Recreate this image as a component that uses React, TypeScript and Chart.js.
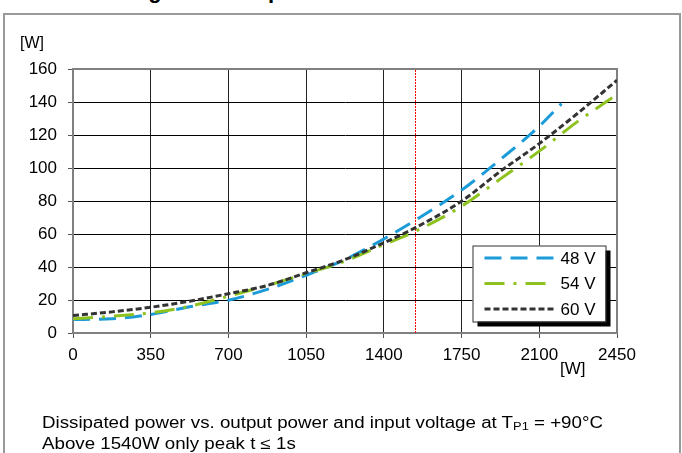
import React, { useEffect, useRef } from "react";
import Chart from "chart.js/auto";

// ---- data ----
const X_48V = [0, 175, 350, 525, 700, 875, 1050, 1225, 1400, 1540, 1750, 1925, 2100, 2200];
const Y_48V = [8.2, 8.6, 11.2, 15.9, 19.9, 26.4, 35, 44.5, 57, 68.2, 86.6, 105.2, 125.3, 139];

const X_54V = [0, 175, 350, 525, 700, 875, 1050, 1225, 1400, 1540, 1750, 1925, 2100, 2275, 2450];
const Y_54V = [8.6, 10.2, 12.2, 16.2, 22.3, 28.8, 36, 43.5, 53.6, 61.5, 76.8, 93.4, 110.2, 128.4, 144.5];

const X_60V = [0, 175, 350, 525, 700, 875, 1050, 1225, 1400, 1540, 1750, 1925, 2100, 2275, 2450];
const Y_60V = [10.6, 12.8, 15.6, 19.3, 23.8, 28.8, 36.5, 44.5, 54.7, 63.7, 79.9, 98, 114.8, 133.4, 153.2];

const SERIES_LABELS = ["48 V", "54 V", "60 V"];
const X_MIN = 0;
const X_MAX = 2450;
const X_STEP = 350;
const Y_MIN = 0;
const Y_MAX = 160;
const Y_STEP = 20;
const PEAK_LIMIT_W = 1540;

const FONT = '"Liberation Sans", Arial, sans-serif';
const COLORS = ["#1b9bd8", "#8dc21f", "#333333"];
const DASHES = [[17, 9], [20, 9, 3, 9], [6, 3]];

const toPoints = (xs: number[], ys: number[]) => xs.map((x, i) => ({ x, y: ys[i] }));

const framePlugin = {
  id: "frameAndLimit",
  beforeDatasetsDraw(chart: any) {
    const { ctx, chartArea, scales } = chart;
    const { left, top, right, bottom } = chartArea;
    ctx.save();
    // red dotted limit line
    const px = Math.round(scales.x.getPixelForValue(PEAK_LIMIT_W));
    ctx.fillStyle = "#ff0000";
    for (let y = Math.ceil(top) + 1; y < bottom - 1; y += 3) {
      ctx.fillRect(px, y, 1, 2);
    }
    // top and right frame
    ctx.strokeStyle = "#808080";
    ctx.lineWidth = 2;
    ctx.beginPath();
    ctx.moveTo(left, top);
    ctx.lineTo(right, top);
    ctx.lineTo(right, bottom);
    ctx.stroke();
    ctx.restore();
  },
  afterDraw(chart: any) {
    const { ctx, chartArea } = chart;
    const bw = 133;
    const bh = 76;
    const bx = chartArea.right - 11.5 - bw;
    const by = chartArea.bottom - 11.5 - bh;
    ctx.save();
    ctx.fillStyle = "#000";
    ctx.fillRect(bx + 5, by + 5, bw, bh);
    ctx.fillStyle = "#fff";
    ctx.fillRect(bx, by, bw, bh);
    ctx.strokeStyle = "#333";
    ctx.lineWidth = 1;
    ctx.strokeRect(bx + 0.5, by + 0.5, bw, bh);
    const rows = [12.5, 38, 63.5];
    SERIES_LABELS.forEach((label, i) => {
      const y = by + rows[i];
      ctx.strokeStyle = COLORS[i];
      ctx.lineWidth = 3;
      ctx.setLineDash(DASHES[i]);
      ctx.beginPath();
      ctx.moveTo(bx + 12, y);
      ctx.lineTo(bx + 82, y);
      ctx.stroke();
      ctx.setLineDash([]);
      ctx.fillStyle = "#000";
      ctx.font = `17px ${FONT}`;
      ctx.textBaseline = "middle";
      ctx.textAlign = "left";
      ctx.fillText(label, bx + 88, y + 1);
    });
    ctx.restore();
  },
};

export default function App() {
  const ref = useRef<HTMLCanvasElement>(null);

  useEffect(() => {
    if (!ref.current) return;
    const datasets = [
      { label: SERIES_LABELS[0], data: toPoints(X_48V, Y_48V), order: 2 },
      { label: SERIES_LABELS[1], data: toPoints(X_54V, Y_54V), order: 1 },
      { label: SERIES_LABELS[2], data: toPoints(X_60V, Y_60V), order: 0 },
    ].map((d, i) => ({
      ...d,
      borderColor: COLORS[i],
      backgroundColor: COLORS[i],
      borderWidth: 3,
      borderDash: DASHES[i],
      pointRadius: 0,
      fill: false,
      cubicInterpolationMode: "monotone" as const,
    }));

    const chart = new Chart(ref.current, {
      type: "line",
      data: { datasets },
      options: {
        animation: false,
        responsive: false,
        devicePixelRatio: 1,
        layout: { padding: { left: 0, top: 69, right: 65, bottom: 80 } },
        plugins: { legend: { display: false }, tooltip: { enabled: false } },
        scales: {
          x: {
            type: "linear",
            min: X_MIN,
            max: X_MAX,
            afterFit: (s: any) => {
              s.height = 40;
            },
            ticks: {
              stepSize: X_STEP,
              color: "#000",
              font: { family: FONT, size: 17 },
              padding: 7,
              maxRotation: 0,
              autoSkip: false,
              callback: (v: any) => String(v),
            },
            grid: { color: "#222", lineWidth: 1, tickLength: 5, tickColor: "#555" },
            border: { color: "#808080", width: 2 },
          },
          y: {
            type: "linear",
            min: Y_MIN,
            max: Y_MAX,
            afterFit: (s: any) => {
              s.width = 73;
            },
            ticks: {
              stepSize: Y_STEP,
              color: "#000",
              font: { family: FONT, size: 17 },
              padding: 11,
              callback: (v: any) => String(v),
            },
            grid: { color: "#000", lineWidth: 1, tickLength: 5, tickColor: "#555" },
            border: { color: "#808080", width: 2 },
          },
        },
      },
      plugins: [framePlugin],
    });
    return () => chart.destroy();
  }, []);

  return (
    <div
      style={{
        position: "fixed",
        left: 0,
        top: 0,
        width: 682,
        height: 453,
        overflow: "hidden",
        background: "#fff",
        fontFamily: FONT,
        color: "#000",
      }}
    >
      <div
        style={{
          position: "absolute",
          left: 81,
          top: -20,
          fontSize: 22,
          lineHeight: "22px",
          fontWeight: "bold",
          whiteSpace: "nowrap",
        }}
      >
        Heating of the output
      </div>
      <div
        style={{
          position: "absolute",
          left: 3,
          top: 13,
          width: 674,
          height: 500,
          border: "2px solid #999",
        }}
      />
      <canvas ref={ref} width={682} height={453} style={{ position: "absolute", left: 0, top: 0 }} />
      <div style={{ position: "absolute", left: 20, top: 35, fontSize: 16, lineHeight: "16px" }}>[W]</div>
      <div style={{ position: "absolute", left: 560, top: 360, fontSize: 17, lineHeight: "17px" }}>[W]</div>
      <div
        style={{
          position: "absolute",
          left: 42,
          top: 412,
          fontSize: 16,
          lineHeight: "21px",
          whiteSpace: "nowrap",
          transform: "scaleX(1.17)",
          transformOrigin: "left top",
        }}
      >
        <div>
          Dissipated power vs. output power and input voltage at T
          <span style={{ fontSize: 11, verticalAlign: "-2px", lineHeight: "0" }}>P1</span> = +90°C
        </div>
        <div>Above 1540W only peak t ≤ 1s</div>
      </div>
    </div>
  );
}
